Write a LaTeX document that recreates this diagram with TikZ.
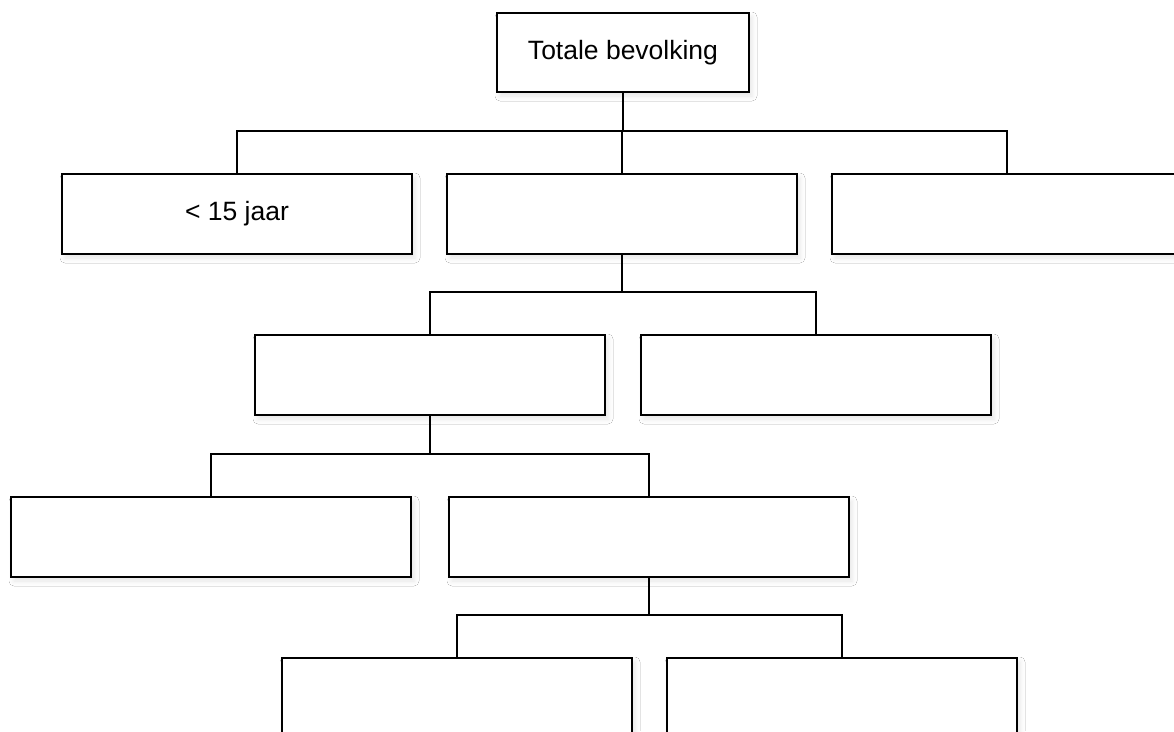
\documentclass[tikz,border=0pt]{standalone}
\usepackage{fontspec}
\setmainfont{Liberation Sans}
\usetikzlibrary{shadows.blur}
\begin{document}
\begin{tikzpicture}[x=1pt,y=-1pt,
  box/.style={draw=black, fill=white, line width=2pt, rectangle, anchor=north west,
    inner sep=0pt, minimum height=80pt, font=\fontsize{26.5}{31}\selectfont,
    blur shadow={shadow xshift=3pt, shadow yshift=-4pt, shadow blur radius=5pt, shadow opacity=10}},
  conn/.style={draw=black, line width=2pt}]
\clip (0,0) rectangle (1174,731);
\fill[white] (0,0) rectangle (1174,731);
% levels of the connector buses
\coordinate (b1) at (0,131);
\coordinate (b2) at (0,292);
\coordinate (b3) at (0,454);
\coordinate (b4) at (0,615);
% boxes
\node[box, minimum width=252pt, minimum height=79pt] (top) at (496,12) {Totale bevolking};
\node[box, minimum width=350pt] (r2a) at (61,173) {< 15 jaar};
\node[box, minimum width=350pt] (r2b) at (446,173) {};
\node[box, minimum width=350pt] (r2c) at (831,173) {};
\node[box, minimum width=350pt] (r3a) at (254,334) {};
\node[box, minimum width=350pt] (r3b) at (640,334) {};
\node[box, minimum width=400pt] (r4a) at (10,496) {};
\node[box, minimum width=400pt] (r4b) at (448,496) {};
\node[box, minimum width=350pt] (r5a) at (281,657) {};
\node[box, minimum width=350pt] (r5b) at (666,657) {};
% connectors
\draw[conn] (top.south) -- (top.south |- b1);
\draw[conn] (r2a.north) -- (r2a.north |- b1) -- (r2c.north |- b1) -- (r2c.north);
\draw[conn] (r2b.north) -- (r2b.north |- b1);
\draw[conn] (r2b.south) -- (r2b.south |- b2);
\draw[conn] (r3a.north) -- (r3a.north |- b2) -- (r3b.north |- b2) -- (r3b.north);
\draw[conn] (r3a.south) -- (r3a.south |- b3);
\draw[conn] (r4a.north) -- (r4a.north |- b3) -- (r4b.north |- b3) -- (r4b.north);
\draw[conn] (r4b.south) -- (r4b.south |- b4);
\draw[conn] (r5a.north) -- (r5a.north |- b4) -- (r5b.north |- b4) -- (r5b.north);
\end{tikzpicture}
\end{document}
